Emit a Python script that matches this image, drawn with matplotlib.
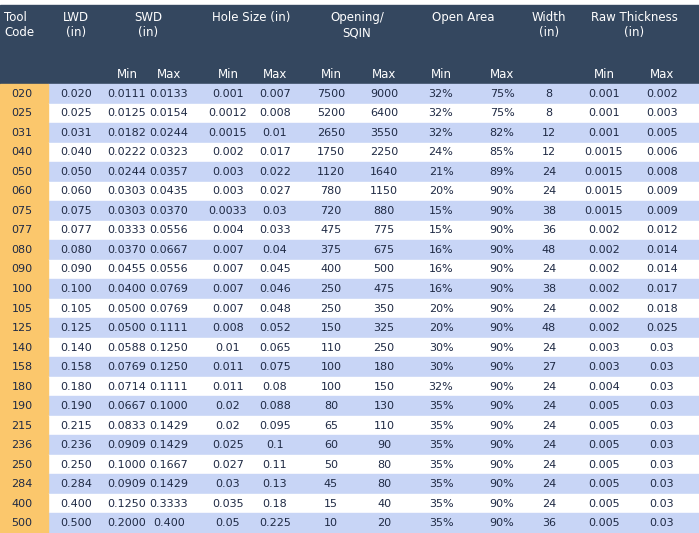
import matplotlib.pyplot as plt
from matplotlib.patches import Rectangle

tool_code = ["020", "025", "031", "040", "050", "060", "075", "077", "080", "090", "100", "105",
             "125", "140", "158", "180", "190", "215", "236", "250", "284", "400", "500"]
lwd = ["0.020", "0.025", "0.031", "0.040", "0.050", "0.060", "0.075", "0.077", "0.080", "0.090",
       "0.100", "0.105", "0.125", "0.140", "0.158", "0.180", "0.190", "0.215", "0.236", "0.250",
       "0.284", "0.400", "0.500"]
swd_min = ["0.0111", "0.0125", "0.0182", "0.0222", "0.0244", "0.0303", "0.0303", "0.0333", "0.0370",
           "0.0455", "0.0400", "0.0500", "0.0500", "0.0588", "0.0769", "0.0714", "0.0667", "0.0833",
           "0.0909", "0.1000", "0.0909", "0.1250", "0.2000"]
swd_max = ["0.0133", "0.0154", "0.0244", "0.0323", "0.0357", "0.0435", "0.0370", "0.0556", "0.0667",
           "0.0556", "0.0769", "0.0769", "0.1111", "0.1250", "0.1250", "0.1111", "0.1000", "0.1429",
           "0.1429", "0.1667", "0.1429", "0.3333", "0.400"]
hole_min = ["0.001", "0.0012", "0.0015", "0.002", "0.003", "0.003", "0.0033", "0.004", "0.007", "0.007",
            "0.007", "0.007", "0.008", "0.01", "0.011", "0.011", "0.02", "0.02", "0.025", "0.027",
            "0.03", "0.035", "0.05"]
hole_max = ["0.007", "0.008", "0.01", "0.017", "0.022", "0.027", "0.03", "0.033", "0.04", "0.045",
            "0.046", "0.048", "0.052", "0.065", "0.075", "0.08", "0.088", "0.095", "0.1", "0.11",
            "0.13", "0.18", "0.225"]
open_min = ["7500", "5200", "2650", "1750", "1120", "780", "720", "475", "375", "400", "250", "250",
            "150", "110", "100", "100", "80", "65", "60", "50", "45", "15", "10"]
open_max = ["9000", "6400", "3550", "2250", "1640", "1150", "880", "775", "675", "500", "475", "350",
            "325", "250", "180", "150", "130", "110", "90", "80", "80", "40", "20"]
area_min = ["32%", "32%", "32%", "24%", "21%", "20%", "15%", "15%", "16%", "16%", "16%", "20%", "20%",
            "30%", "30%", "32%", "35%", "35%", "35%", "35%", "35%", "35%", "35%"]
area_max = ["75%", "75%", "82%", "85%", "89%", "90%", "90%", "90%", "90%", "90%", "90%", "90%", "90%",
            "90%", "90%", "90%", "90%", "90%", "90%", "90%", "90%", "90%", "90%"]
width = ["8", "8", "12", "12", "24", "24", "38", "36", "48", "24", "38", "24", "48", "24", "27", "24",
         "24", "24", "24", "24", "24", "24", "36"]
raw_min = ["0.001", "0.001", "0.001", "0.0015", "0.0015", "0.0015", "0.0015", "0.002", "0.002", "0.002",
           "0.002", "0.002", "0.002", "0.003", "0.003", "0.004", "0.005", "0.005", "0.005", "0.005",
           "0.005", "0.005", "0.005"]
raw_max = ["0.002", "0.003", "0.005", "0.006", "0.008", "0.009", "0.009", "0.012", "0.014", "0.014",
           "0.017", "0.018", "0.025", "0.03", "0.03", "0.03", "0.03", "0.03", "0.03", "0.03", "0.03",
           "0.03", "0.03"]

columns = [tool_code, lwd, swd_min, swd_max, hole_min, hole_max, open_min, open_max,
           area_min, area_max, width, raw_min, raw_max]
col_x = [22, 76, 127, 169, 228, 275, 331, 384, 441, 502, 549, 604, 662]
top_headers = [(4, "Tool\nCode", "left"), (76, "LWD\n(in)", "center"), (148, "SWD\n(in)", "center"),
               (251, "Hole Size (in)", "center"), (357, "Opening/\nSQIN", "center"),
               (463, "Open Area", "center"), (549, "Width\n(in)", "center"),
               (634, "Raw Thickness\n(in)", "center")]
sub_headers = ["", "", "Min", "Max", "Min", "Max", "Min", "Max", "Min", "Max", "", "Min", "Max"]

W, H = 699, 533
head_top, head_bot = 5, 84
row_h = (H - head_bot) / len(tool_code)
header_col = "#34475f"
text_col = "#1f2a44"

fig = plt.figure(figsize=(W / 100, H / 100), dpi=100)
ax = fig.add_axes([0, 0, 1, 1])
ax.set_xlim(0, W)
ax.set_ylim(H, 0)
ax.axis("off")

ax.add_patch(Rectangle((0, head_top), W, head_bot - head_top, color=header_col))
for x, label, ha in top_headers:
    ax.text(x, 11, label, color="white", fontsize=8.5, ha=ha, va="top", linespacing=1.2)
for x, label in zip(col_x, sub_headers):
    ax.text(x, 74, label, color="white", fontsize=8.5, ha="center", va="center")

for i in range(len(tool_code)):
    y = head_bot + i * row_h
    bg = "#c8d5f6" if i % 2 == 0 else "white"
    ax.add_patch(Rectangle((48, y), W - 48, row_h, color=bg))
    ax.add_patch(Rectangle((0, y), 48, row_h, color="#fbc76c"))
    for x, col in zip(col_x, columns):
        ax.text(x, y + row_h / 2, col[i], color=text_col, fontsize=8, ha="center", va="center")

fig.savefig("out.png", dpi=100)
